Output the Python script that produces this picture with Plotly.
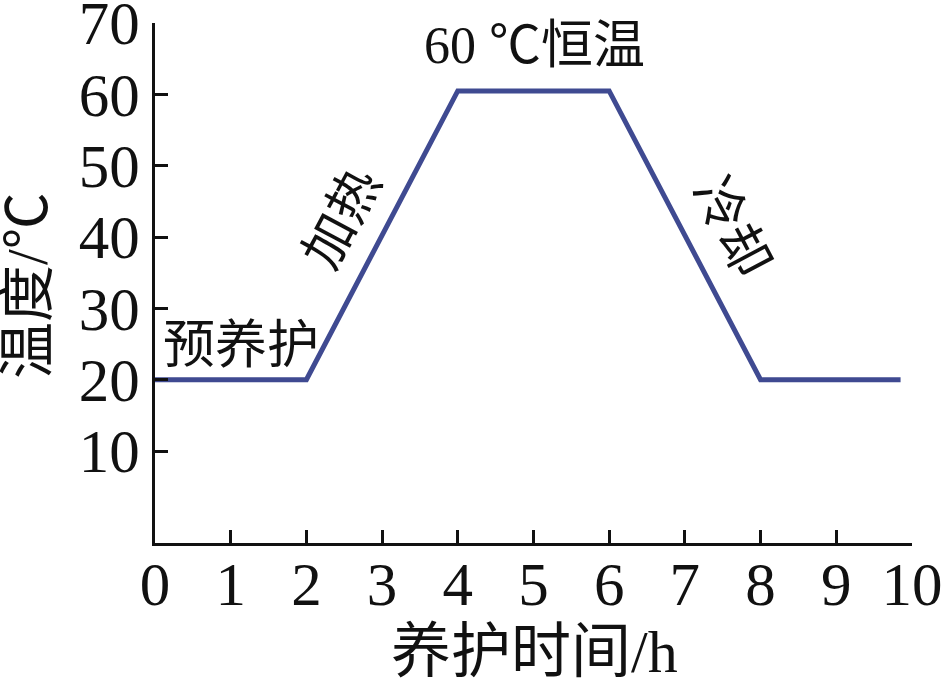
import plotly.graph_objects as go

# Data
time_h = [0, 2, 4, 6, 8, 9.85]
temp_c = [20, 20, 60.5, 60.5, 20, 20]
x_ticks = [0, 1, 2, 3, 4, 5, 6, 7, 8, 9, 10]
y_ticks = [10, 20, 30, 40, 50, 60, 70]
stage_labels = ["预养护", "加热", "60 ℃恒温", "冷却"]
stage_x = [0.08, 2.47, 5.02, 7.62]
stage_y = [24.8, 42.6, 66.9, 41.4]
stage_angle = [0, -62, 0, 62]
stage_anchor = ["left", "center", "center", "center"]

FONT = "Liberation Serif, Times New Roman, Noto Sans CJK SC, serif"
LINE_COLOR = "#3F4A91"

fig = go.Figure()
fig.add_trace(go.Scatter(
    x=time_h, y=temp_c, mode="lines",
    line=dict(color=LINE_COLOR, width=5),
    showlegend=False, hoverinfo="skip",
))

for t, x, y, a, anc in zip(stage_labels, stage_x, stage_y, stage_angle, stage_anchor):
    fig.add_annotation(x=x, y=y, text=t, showarrow=False, textangle=a,
                       xanchor=anc, yanchor="middle",
                       font=dict(family=FONT, size=52, color="#111111"))

# plot area: x 155..912, y 23..543 (px)
fig.add_annotation(xref="paper", yref="paper", x=(534 - 155) / 757, y=-(652 - 543) / 520,
                   text="养护时间/h", showarrow=False, xanchor="center", yanchor="middle",
                   font=dict(family=FONT, size=60, color="#111111"))
fig.add_annotation(xref="paper", yref="paper", x=(27 - 155) / 757, y=(543 - 286) / 520,
                   text="温度/℃", showarrow=False, textangle=-90,
                   xanchor="center", yanchor="middle",
                   font=dict(family=FONT, size=57, color="#111111"))

axis_common = dict(
    showgrid=False, zeroline=False, showline=True, linecolor="#111111", linewidth=3,
    ticks="inside", ticklen=13, tickwidth=3, tickcolor="#111111", automargin=False,
    ticklabeloverflow="allow",
    tickfont=dict(family=FONT, size=61, color="#111111"),
)
fig.update_xaxes(range=[0, 10.001], tickvals=x_ticks, ticktext=[str(v) for v in x_ticks],
                 ticklabelstandoff=-14, **axis_common)
fig.update_yaxes(range=[-2.9, 70.02], tickvals=y_ticks, ticktext=[str(v) for v in y_ticks],
                 **axis_common)

fig.update_layout(
    width=942, height=683,
    margin=dict(l=155, r=30, t=23, b=140),
    paper_bgcolor="white", plot_bgcolor="white",
)
fig.write_html("out.html", config={"displayModeBar": False},
               post_script="document.body.style.margin='0px';")
